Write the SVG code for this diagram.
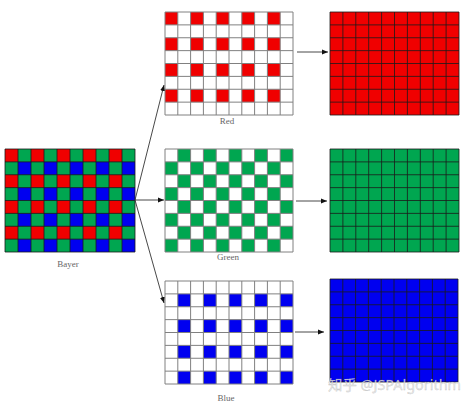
<svg xmlns="http://www.w3.org/2000/svg" xmlns:xlink="http://www.w3.org/1999/xlink" width="474" height="407" viewBox="0 0 474 407">
<style>
.lines{fill:none}
.sparse{stroke:#808080;stroke-width:1}
.dense{stroke:#1a1a1a;stroke-width:0.8}
.lbl{font-family:"Liberation Serif",serif;font-size:9px;fill:#666;text-anchor:middle}
.conn line{stroke:#333;stroke-width:0.9}
.r{fill:#f00000}.g{fill:#00a650}.b{fill:#0000f0}
</style>
<defs>
<marker id="ah" viewBox="0 0 10 10" refX="10" refY="5" markerWidth="6" markerHeight="6" markerUnits="userSpaceOnUse" orient="auto">
<path d="M0 1L10 5L0 9z" fill="#111"/>
</marker>
<g id="evenRow"><rect x="0" y="0" width="1" height="1"/><rect x="2" y="0" width="1" height="1"/><rect x="4" y="0" width="1" height="1"/><rect x="6" y="0" width="1" height="1"/><rect x="8" y="0" width="1" height="1"/></g>
<path id="grid" vector-effect="non-scaling-stroke" fill="none" d="M0 0H10M0 1H10M0 2H10M0 3H10M0 4H10M0 5H10M0 6H10M0 7H10M0 8H10M0 0V8M1 0V8M2 0V8M3 0V8M4 0V8M5 0V8M6 0V8M7 0V8M8 0V8M9 0V8M10 0V8"/>
</defs>
<rect width="474" height="407" fill="#fff"/>

<g id="bayer">
<g transform="translate(5,149) scale(13,12.875)">
<rect class="g" x="0" y="0" width="10" height="8"/>
<g class="r"><use xlink:href="#evenRow" y="0"/><use xlink:href="#evenRow" y="2"/><use xlink:href="#evenRow" y="4"/><use xlink:href="#evenRow" y="6"/></g>
<g class="b"><use xlink:href="#evenRow" x="1" y="1"/><use xlink:href="#evenRow" x="1" y="3"/><use xlink:href="#evenRow" x="1" y="5"/><use xlink:href="#evenRow" x="1" y="7"/></g>
<use xlink:href="#grid" class="lines dense"/>
</g>
<text class="lbl" x="68" y="267">Bayer</text>
</g>

<g id="red-sparse">
<g transform="translate(165,12) scale(12.8,12.875)">
<rect fill="#fff" x="0" y="0" width="10" height="8"/>
<g class="r"><use xlink:href="#evenRow" y="0"/><use xlink:href="#evenRow" y="2"/><use xlink:href="#evenRow" y="4"/><use xlink:href="#evenRow" y="6"/></g>
<use xlink:href="#grid" class="lines sparse"/>
</g>
<text class="lbl" x="227" y="124">Red</text>
</g>

<g id="green-sparse">
<g transform="translate(165,149) scale(12.8,12.875)">
<rect fill="#fff" x="0" y="0" width="10" height="8"/>
<g class="g"><use xlink:href="#evenRow" x="1" y="0"/><use xlink:href="#evenRow" y="1"/><use xlink:href="#evenRow" x="1" y="2"/><use xlink:href="#evenRow" y="3"/><use xlink:href="#evenRow" x="1" y="4"/><use xlink:href="#evenRow" y="5"/><use xlink:href="#evenRow" x="1" y="6"/><use xlink:href="#evenRow" y="7"/></g>
<use xlink:href="#grid" class="lines sparse"/>
</g>
<text class="lbl" x="228" y="260">Green</text>
</g>

<g id="blue-sparse">
<g transform="translate(165,281) scale(12.8,12.875)">
<rect fill="#fff" x="0" y="0" width="10" height="8"/>
<g class="b"><use xlink:href="#evenRow" x="1" y="1"/><use xlink:href="#evenRow" x="1" y="3"/><use xlink:href="#evenRow" x="1" y="5"/><use xlink:href="#evenRow" x="1" y="7"/></g>
<use xlink:href="#grid" class="lines sparse"/>
</g>
<text class="lbl" x="226" y="401">Blue</text>
</g>

<g id="red-full">
<g transform="translate(330,12) scale(12.9,12.875)">
<rect class="r" x="0" y="0" width="10" height="8"/>
<use xlink:href="#grid" class="lines dense"/>
</g>
</g>

<g id="green-full">
<g transform="translate(330,149) scale(12.9,12.875)">
<rect class="g" x="0" y="0" width="10" height="8"/>
<use xlink:href="#grid" class="lines dense"/>
</g>
</g>

<g id="blue-full">
<g transform="translate(330,279) scale(12.8,12.875)">
<rect class="b" x="0" y="0" width="10" height="8"/>
<use xlink:href="#grid" class="lines dense"/>
</g>
</g>

<g id="connectors" class="conn">
<line x1="135" y1="200" x2="164" y2="85" marker-end="url(#ah)"/>
<line x1="135" y1="200" x2="164" y2="200" marker-end="url(#ah)"/>
<line x1="135" y1="200" x2="164" y2="303" marker-end="url(#ah)"/>
<line x1="297" y1="52" x2="328" y2="52" marker-end="url(#ah)"/>
<line x1="296" y1="201" x2="327" y2="201" marker-end="url(#ah)"/>
<line x1="295" y1="332" x2="324" y2="332" marker-end="url(#ah)"/>
</g>

<text x="328" y="390" textLength="133" lengthAdjust="spacingAndGlyphs" font-family="'Noto Sans','Noto Sans CJK SC',sans-serif" font-size="14" fill="#e6e6e6" fill-opacity="0.85" stroke="#888" stroke-width="0.3" stroke-opacity="0.5">知乎 @JSPAlgorithm</text>
</svg>
